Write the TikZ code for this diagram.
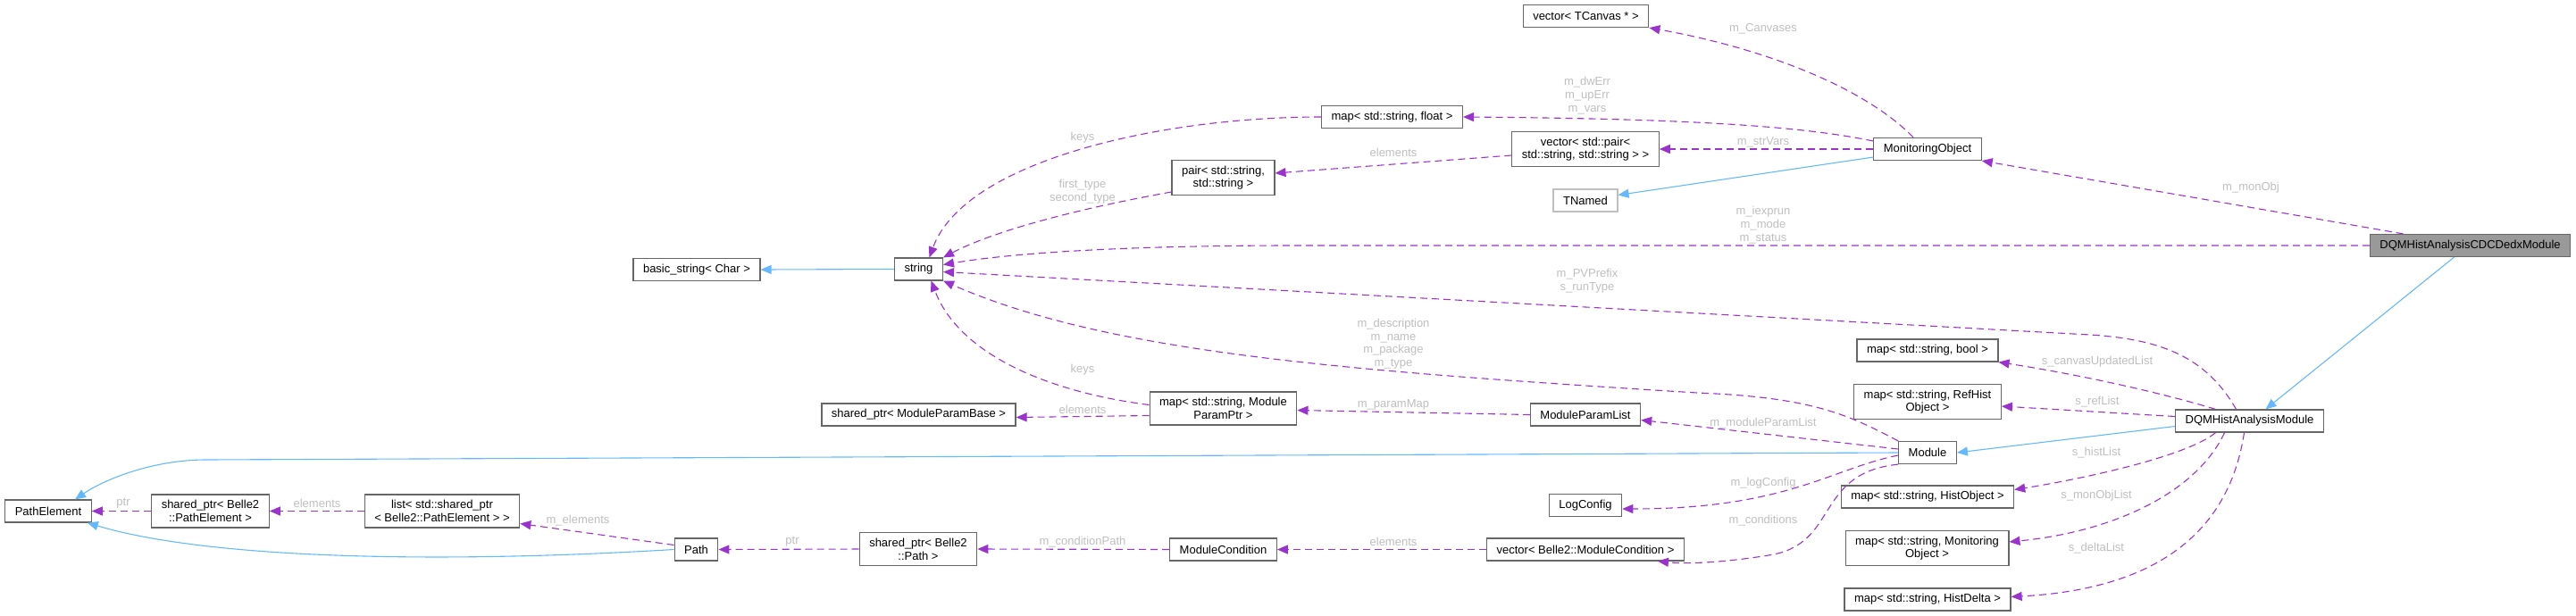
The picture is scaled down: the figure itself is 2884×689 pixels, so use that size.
\documentclass[tikz,border=0pt]{standalone}
\usepackage{fontspec}
\setmainfont{Liberation Sans}
\usetikzlibrary{arrows.meta}
\definecolor{nodegray}{HTML}{666666}
\definecolor{rootgray}{HTML}{999999}
\definecolor{extgray}{HTML}{BFBFBF}
\definecolor{usepurple}{HTML}{9A32CD}
\definecolor{inhblue}{HTML}{63B8FF}
\definecolor{lblgray}{HTML}{BEBEBE}
\begin{document}
\begin{tikzpicture}[x=1pt, y=-1pt,
        >={Triangle[length=12pt,width=10pt]},
        cls/.style={draw=nodegray, line width=1.2pt, fill=white, font=\fontsize{13}{14.7}\selectfont,
            inner xsep=11pt, inner ysep=6.3pt, minimum height=25pt, align=center},
        rootcls/.style={cls, fill=rootgray},
        extcls/.style={cls, draw=extgray},
        usage/.style={->, draw=usepurple, line width=1.1pt, dash pattern=on 8pt off 5pt},
        inh/.style={->, draw=inhblue, line width=1.1pt},
        lbl/.style={text=lblgray, font=\fontsize{13}{14.7}\selectfont, align=center, inner sep=0pt}]
        \useasboundingbox (0,0) rectangle (2884,689);

        \node[rootcls] (cdcdedx) at (2765.5,275) {DQMHistAnalysisCDCDedxModule};
        \node[cls] (dqmmod) at (2518.5,471.5) {DQMHistAnalysisModule};
        \node[cls] (module) at (2158,507) {Module};
        \node[cls] (pathel) at (54,572.5) {PathElement};
        \node[cls] (path) at (779.5,615.5) {Path};
        \node[cls] (listptr) at (495,572.5) {list< std::shared\_ptr\\< Belle2::PathElement > >};
        \node[cls] (sptrpe) at (235.5,572.5) {shared\_ptr< Belle2\\::PathElement >};
        \node[cls] (sptrpath) at (1028,615) {shared\_ptr< Belle2\\::Path >};
        \node[cls] (modcond) at (1369.5,615.5) {ModuleCondition};
        \node[cls] (vecmodcond) at (1775,615.5) {vector< Belle2::ModuleCondition >};
        \node[cls] (logconfig) at (1775,566) {LogConfig};
        \node[cls] (mplist) at (1775,464.5) {ModuleParamList};
        \node[cls] (mapparam) at (1369.5,457.5) {map< std::string, Module\\ParamPtr >};
        \node[cls] (sptrbase) at (1028.5,464.5) {shared\_ptr< ModuleParamBase >};
        \node[cls] (string) at (1028.5,301.5) {string};
        \node[cls] (basicstr) at (780,302) {basic\_string< Char >};
        \node[cls] (pair) at (1369.5,199) {pair< std::string,\\std::string >};
        \node[cls] (mapfloat) at (1558.5,131) {map< std::string, float >};
        \node[cls] (vecpair) at (1775,167) {vector< std::pair<\\std::string, std::string > >};
        \node[cls] (veccanvas) at (1775.5,18) {vector< TCanvas * >};
        \node[cls] (monobj) at (2158,167) {MonitoringObject};
        \node[extcls] (tnamed) at (1775,224.5) {TNamed};
        \node[cls] (mapbool) at (2158,392.5) {map< std::string, bool >};
        \node[cls] (maprefhist) at (2158,450) {map< std::string, RefHist\\Object >};
        \node[cls] (maphistobj) at (2158,556.5) {map< std::string, HistObject >};
        \node[cls] (mapmonobj) at (2157.5,614) {map< std::string, Monitoring\\Object >};
        \node[cls] (maphistdelta) at (2158,671.5) {map< std::string, HistDelta >};

        \draw[inh] ([xshift=-18pt]cdcdedx.south) -- ([xshift=18pt]dqmmod.north);
        \draw[inh] ([yshift=-6pt]dqmmod.west) -- (module.east);
        \draw[inh] (module.west) -- (230,515) .. controls (175,515) and (120,535) .. ([xshift=30pt]pathel.north);
        \draw[inh] (path.west) .. controls (480,632) and (230,625) .. ([xshift=-5pt]pathel.south east);
        \draw[inh] ([yshift=-9pt]monobj.west) -- ([yshift=6pt]tnamed.east);
        \draw[inh] (string.west) -- (basicstr.east);

        \draw[usage] ([xshift=-75pt]cdcdedx.north) -- (monobj.south east);
        \draw[usage] (cdcdedx.west) -- (1450,275) .. controls (1250,275) and (1130,284) .. ([yshift=5pt]string.east);
        \draw[usage] ([xshift=-15pt]dqmmod.north) .. controls (2470,400) and (2420,380) .. (2340,375) -- ([yshift=-3pt]string.east);
        \draw[usage] ([xshift=-38pt]dqmmod.north) .. controls (2420,440) and (2330,420) .. (mapbool.south east);
        \draw[usage] ([yshift=5pt]dqmmod.west) -- ([yshift=-5pt]maprefhist.east);
        \draw[usage] ([xshift=-38pt]dqmmod.south) .. controls (2450,510) and (2340,535) .. ([yshift=8pt]maphistobj.east);
        \draw[usage] ([xshift=-28pt]dqmmod.south) .. controls (2460,550) and (2370,595) .. ([yshift=7pt]mapmonobj.east);
        \draw[usage] ([xshift=-6pt]dqmmod.south) .. controls (2495,600) and (2410,660) .. ([yshift=3pt]maphistdelta.east);
        \draw[usage] (module.north west) .. controls (2070,465) and (2030,445) .. (1900,440) .. controls (1500,415) and (1240,395) .. (string.south east);
        \draw[usage] ([yshift=4pt]module.west) -- ([yshift=-6pt]mplist.east);
        \draw[usage] ([yshift=-3pt]module.west) .. controls (2050,525) and (2000,570) .. ([yshift=-4pt]logconfig.east);
        \draw[usage] (module.south west) .. controls (2030,530) and (2060,610) .. (1980,622) .. controls (1930,630) and (1890,632) .. ([xshift=-30pt]vecmodcond.south east);
        \draw[usage] (vecmodcond.west) -- (modcond.east);
        \draw[usage] (modcond.west) -- (sptrpath.east);
        \draw[usage] (sptrpath.west) -- (path.east);
        \draw[usage] ([yshift=5pt]path.west) -- ([yshift=-14pt]listptr.east);
        \draw[usage] (listptr.west) -- (sptrpe.east);
        \draw[usage] (sptrpe.west) -- (pathel.east);
        \draw[usage] (mplist.west) -- ([yshift=-2pt]mapparam.east);
        \draw[usage] ([yshift=-8pt]mapparam.west) -- ([yshift=-3pt]sptrbase.east);
        \draw[usage] ([yshift=4pt]mapparam.west) .. controls (1180,440) and (1075,400) .. ([xshift=14pt]string.south);
        \draw[usage] ([yshift=-16pt]pair.west) .. controls (1200,235) and (1110,260) .. (string.north east);
        \draw[usage] (mapfloat.west) .. controls (1300,131) and (1080,180) .. ([xshift=12pt]string.north);
        \draw[usage] ([yshift=-7pt]vecpair.west) -- ([yshift=5pt]pair.east);
        \draw[usage] ([yshift=9pt]monobj.west) .. controls (2020,142) and (1900,133) .. (mapfloat.east);
        \draw[usage] (monobj.west) -- (vecpair.east);
        \draw[usage] ([xshift=-16pt]monobj.north) .. controls (2090,100) and (1980,55) .. (veccanvas.south east);

        \node[lbl] (lmonobj) at (2520,210) {m\_monObj};
        \node[lbl] (liexprun) at (1974,252) {m\_iexprun\\m\_mode\\m\_status};
        \node[lbl] (lpvprefix) at (1777,314.5) {m\_PVPrefix\\s\_runType};
        \node[lbl] (lcanvasupd) at (2348,405) {s\_canvasUpdatedList};
        \node[lbl] (lreflist) at (2348,450) {s\_refList};
        \node[lbl] (lhistlist) at (2347,507) {s\_histList};
        \node[lbl] (lmonobjlist) at (2347,555) {s\_monObjList};
        \node[lbl] (ldeltalist) at (2347,614) {s\_deltaList};
        \node[lbl] (ldescr) at (1560,385) {m\_description\\m\_name\\m\_package\\m\_type};
        \node[lbl] (lparamlist) at (1974,474) {m\_moduleParamList};
        \node[lbl] (llogconfig) at (1974,541) {m\_logConfig};
        \node[lbl] (lconditions) at (1974,583) {m\_conditions};
        \node[lbl] (lelemcond) at (1560,607) {elements};
        \node[lbl] (lcondpath) at (1212,607) {m\_conditionPath};
        \node[lbl] (lptrpath) at (887,607) {ptr};
        \node[lbl] (lelements) at (647,583) {m\_elements};
        \node[lbl] (lelempe) at (355,564) {elements};
        \node[lbl] (lptrpe) at (138,564) {ptr};
        \node[lbl] (lparammap) at (1560,453) {m\_paramMap};
        \node[lbl] (lelembase) at (1212,459) {elements};
        \node[lbl] (lkeysparam) at (1212,414) {keys};
        \node[lbl] (lfirsttype) at (1212,214.5) {first\_type\\second\_type};
        \node[lbl] (lkeysfloat) at (1212,154) {keys};
        \node[lbl] (lelempair) at (1560,171) {elements};
        \node[lbl] (ldwerr) at (1777,107) {m\_dwErr\\m\_upErr\\m\_vars};
        \node[lbl] (lstrvars) at (1974,159) {m\_strVars};
        \node[lbl] (lcanvases) at (1974,32) {m\_Canvases};
    \end{tikzpicture}
\end{document}
